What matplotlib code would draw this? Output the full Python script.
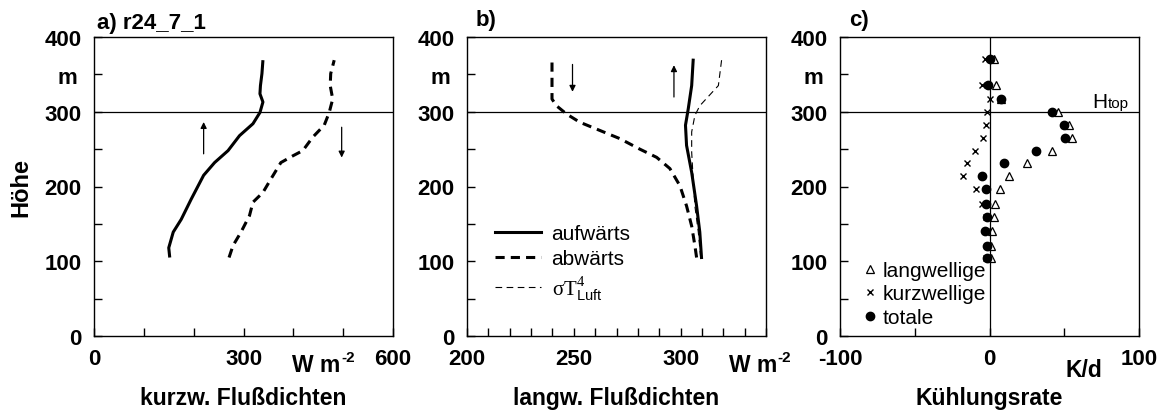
import matplotlib
matplotlib.use("Agg")
import matplotlib.pyplot as plt

plt.rcParams['font.family'] = ['Liberation Sans', 'DejaVu Sans']
plt.rcParams['mathtext.fontset'] = 'custom'
plt.rcParams['mathtext.rm'] = 'Liberation Serif'
plt.rcParams['mathtext.it'] = 'Liberation Serif:italic'
plt.rcParams['mathtext.sf'] = 'Liberation Sans'

# Panel a: short-wave flux densities
a_up_x = [152, 150, 159, 175, 195, 220, 242, 269, 292, 319, 333, 339, 333, 334, 337, 339]
a_up_z = [105, 118, 139, 156, 183, 215, 232, 248, 268, 284, 299, 313, 324, 335, 351, 369]
a_dn_x = [271, 279, 295, 312, 319, 339, 355, 375, 399, 419, 439, 462, 472, 479, 474, 475, 482]
a_dn_z = [105, 121, 139, 161, 179, 192, 210, 232, 241, 248, 266, 282, 299, 317, 335, 351, 369]

# Panel b: long-wave flux densities
b_dn_x = [307.5, 306.7, 305.2, 302.8, 299.7, 295.0, 288.8, 280.9, 271.6, 262.2, 252.8, 246.6, 241.9, 239.8, 239.8]
b_dn_z = [105, 121, 147, 174, 201, 224, 239, 250, 264, 275, 286, 297, 308, 317, 366]
b_up_x = [309.8, 309.0, 307.5, 305.2, 302.8, 302.3, 303.6, 305.2, 305.9]
b_up_z = [105, 139, 174, 219, 255, 282, 304, 335, 369]
b_st_x = [309.4, 308.3, 306.7, 305.9, 305.2, 305.2, 306.7, 309.0, 317.7, 319.2]
b_st_z = [105, 139, 174, 210, 246, 273, 295, 308, 335, 369]

# Panel c: cooling rates
c_z = [105, 121, 140, 159, 177, 196, 214, 231, 248, 265, 282, 299, 317, 336, 370]
c_lw = [1, 1, 1.5, 3, 3.5, 7, 13.2, 25, 42, 55.5, 53.5, 45.5, 8, 4.2, 3]
c_sw = [-2.5, -2, -2.5, -2.5, -5, -9, -18, -15, -10, -4.5, -2.2, -1.6, 0, -4.7, -3.1]
c_tot = [-1.8, -1.8, -2.7, -1.8, -2.2, -2.2, -5, 9.8, 31, 50.5, 50, 41.5, 7.8, -0.7, 0]

H_TOP = 300

fig = plt.figure(figsize=(11.64, 4.14), dpi=100)
W, H = 1164, 414
def add_ax(left):
    return fig.add_axes([left / W, 1 - 337 / H, 299 / W, 299 / H])

axa = add_ax(94)
axb = add_ax(467)
axc = add_ax(840)

TF = dict(fontsize=16, fontweight='bold')
LF = dict(fontsize=16.5, fontweight='bold')

for ax in (axa, axb, axc):
    ax.set_ylim(0, 400)
    ax.set_yticks(range(0, 401, 50))
    ax.set_yticklabels(['0', '', '100', '', '200', '', '300', '', '400'], **TF)
    ax.tick_params(axis='both', direction='in', length=6, width=1, pad=9, top=False, right=False)
    ax.axhline(H_TOP, color='black', lw=0.9)
    for s in ax.spines.values():
        s.set_linewidth(1.0)
    ax.text(-0.09, 0.865, 'm', transform=ax.transAxes, ha='center', va='center', **TF)

# Panel a
axa.plot(a_up_x, a_up_z, color='black', lw=2.2, solid_capstyle='butt')
axa.plot(a_dn_x, a_dn_z, color='black', lw=2.2, ls=(0, (3, 2)))
axa.set_xlim(0, 600)
axa.set_xticks(range(0, 601, 100))
axa.set_xticklabels(['0', '', '', '300', '', '', '600'], **TF)
axa.annotate('', xy=(220, 290), xytext=(220, 240),
             arrowprops=dict(arrowstyle='-|>', color='black', lw=0.9, mutation_scale=9))
axa.annotate('', xy=(497, 235), xytext=(497, 283),
             arrowprops=dict(arrowstyle='-|>', color='black', lw=0.9, mutation_scale=9))
axa.text(398, -47, 'W m', ha='left', va='baseline', **LF)
axa.text(496, -34, '-2', ha='left', va='baseline', fontsize=11, fontweight='bold')
axa.text(0.5, -0.205, 'kurzw. Flußdichten', transform=axa.transAxes, ha='center', va='center', **LF)
axa.text(0.01, 1.05, 'a) r24_7_1', transform=axa.transAxes, ha='left', va='center', **TF)
axa.text(-0.245, 0.5, 'Höhe', transform=axa.transAxes, rotation=90, ha='center', va='center',
         fontsize=17, fontweight='bold')

# Panel b
l1, = axb.plot(b_up_x, b_up_z, color='black', lw=2.2, label='aufwärts')
l2, = axb.plot(b_dn_x, b_dn_z, color='black', lw=2.2, ls=(0, (3, 2)), label='abwärts')
l3, = axb.plot(b_st_x, b_st_z, color='black', lw=0.8, ls=(0, (6, 4)),
               label=r'$\mathrm{\sigma T}^4_{\mathsf{Luft}}$')
axb.set_xlim(200, 340)
axb.set_xticks(range(200, 341, 10))
axb.set_xticklabels(['200'] + [''] * 4 + ['250'] + [''] * 4 + ['300'] + [''] * 4, **TF)
axb.annotate('', xy=(249.4, 323), xytext=(249.4, 367),
             arrowprops=dict(arrowstyle='-|>', color='black', lw=0.9, mutation_scale=9))
axb.annotate('', xy=(296.9, 366), xytext=(296.9, 316),
             arrowprops=dict(arrowstyle='-|>', color='black', lw=0.9, mutation_scale=9))
axb.text(322.5, -47, 'W m', ha='left', va='baseline', **LF)
axb.text(345.3, -34, '-2', ha='left', va='baseline', fontsize=11, fontweight='bold', clip_on=False)
axb.text(0.5, -0.205, 'langw. Flußdichten', transform=axb.transAxes, ha='center', va='center', **LF)
axb.text(0.03, 1.06, 'b)', transform=axb.transAxes, ha='left', va='center', **TF)
axb.legend(handles=[l1, l2, l3], loc='lower left', bbox_to_anchor=(0.06, 0.08),
           frameon=False, fontsize=15, handlelength=2.2, handletextpad=0.5,
           labelspacing=0.3, borderpad=0)

# Panel c
axc.plot(c_lw, c_z, ls='none', marker='^', ms=5.5, mfc='white', mec='black', mew=0.9, label='langwellige')
axc.plot(c_sw, c_z, ls='none', marker='x', ms=4.5, color='black', mew=1.0, label='kurzwellige')
axc.plot(c_tot, c_z, ls='none', marker='o', ms=6, color='black', label='totale')
axc.axvline(0, color='black', lw=0.9)
axc.set_xlim(-100, 100)
axc.set_xticks([-100, -50, 0, 50, 100])
axc.set_xticklabels(['-100', '', '0', '', '100'], **TF)
axc.text(69, 306, 'H', fontsize=15, ha='left', va='baseline')
axc.text(79, 306, 'top', fontsize=11, ha='left', va='baseline')
axc.text(63, -45, 'K/d', ha='center', va='center', **LF)
axc.text(0.5, -0.205, 'Kühlungsrate', transform=axc.transAxes, ha='center', va='center', **LF)
axc.text(0.03, 1.06, 'c)', transform=axc.transAxes, ha='left', va='center', **TF)
axc.legend(loc='lower left', bbox_to_anchor=(0.045, -0.005), frameon=False, fontsize=15,
           handlelength=0.6, handletextpad=0.3, labelspacing=0.22, borderpad=0)

fig.savefig('out.png', dpi=100)
